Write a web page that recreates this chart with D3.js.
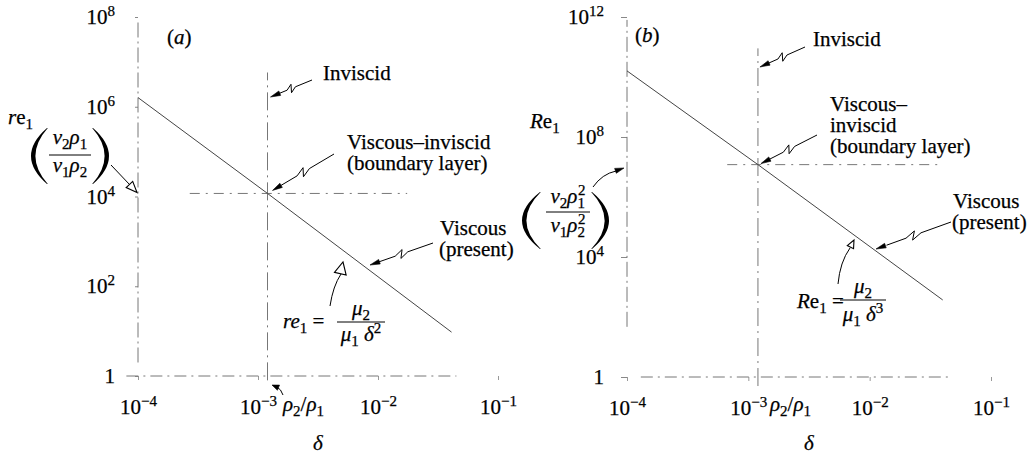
<!DOCTYPE html>
<html>
<head>
<meta charset="utf-8">
<script src="https://cdn.jsdelivr.net/npm/d3@7"></script>
<style>
  body { margin: 0; background: #fff; }
  svg, svg text { font-family: "Liberation Serif", "Times New Roman", serif; }
  svg { display: block; }
</style>
</head>
<body>
<svg id="chart" width="1033" height="455"></svg>
<script>
// values
const deltaTicks = [1e-4, 1e-3, 1e-2, 1e-1];
const reTicksA = [1, 1e2, 1e4, 1e6, 1e8];
const reTicksB = [1, 1e4, 1e8, 1e12];
const rhoRatio = 1.2e-3;                 // rho2/rho1, the inviscid line

// re1 = mu2 / (mu1 delta^2)   (panel a)
const viscousA = [[1e-4, 1.6e6], [1.2e-3, 1.17e4], [0.041, 9.5]];
// Re1 = mu2 / (mu1 delta^3)   (panel b)
const viscousB = [[1e-4, 1.6e10], [1.2e-3, 1.2e7], [0.04, 370]];

// viscous-inviscid (boundary layer) level and its extent in delta
const boundaryA = [[2.7e-4, 1.17e4], [0.0175, 1.17e4]];
const boundaryB = [[6.7e-4, 1.2e7], [0.04, 1.2e7]];

// broken axis lines as they appear in the scan
const leftAxisA = [[1e-4, 2], [1e-4, 8e7]];
const leftAxisB = [[1e-4, 47], [1e-4, 8e11]];
const inviscidA = [[rhoRatio, 0.8], [rhoRatio, 5.8e6]];
const inviscidB = [[rhoRatio, 0.5], [rhoRatio, 9e10]];
const bottomAxisA = [[8e-5, 1], [0.045, 1]];
const bottomAxisB = [[1.3e-4, 1], [0.045, 1]];

const FONT = 'Liberation Serif, serif';
const FS = 21;
const INK = '#000';

const svg = d3.select('#chart').attr('font-family', FONT);

function supLabel(d) {
  const t = d3.select(this);
  const e = Math.round(Math.log10(d));
  t.text(null).attr('fill', INK).attr('font-family', FONT)
    .attr('stroke', INK).attr('stroke-width', 0.25);
  if (e === 0) { t.text('1'); return; }
  t.append('tspan').text('10');
  t.append('tspan').attr('dy', -8).attr('font-size', 15).text(String(e).replace('-', '\u2212'));
}

function drawPanel(cfg) {
  const g = svg.append('g');
  const x = d3.scaleLog().domain([1e-4, 1e-1]).range(cfg.xr);
  const y = d3.scaleLog().domain(cfg.yd).range(cfg.yr);
  const line = d3.line().x(d => x(d[0])).y(d => y(d[1]));

  // axes: tiny ticks + labels
  g.append('g')
    .attr('transform', `translate(${cfg.xr[0]},0)`)
    .call(d3.axisLeft(y).tickValues(cfg.yTicks).tickSizeInner(cfg.yTick).tickSizeOuter(0).tickPadding(23 - cfg.yTick))
    .call(a => a.select('.domain').remove())
    .call(a => a.attr('font-family', FONT).attr('font-size', FS))
    .call(a => a.selectAll('line').attr('stroke', '#888'))
    .call(a => a.selectAll('text').each(supLabel));

  g.append('g')
    .attr('transform', `translate(0,${y(1)})`)
    .call(d3.axisBottom(x).tickValues(deltaTicks).tickSizeInner(4).tickSizeOuter(0).tickPadding(19))
    .call(a => a.select('.domain').remove())
    .call(a => a.attr('font-family', FONT).attr('font-size', FS))
    .call(a => a.selectAll('line').attr('stroke', '#999'))
    .call(a => a.selectAll('text').each(supLabel));

  // dash-dot construction lines
  const dashed = [
    [cfg.leftAxis, '15,4,2,4'],
    [cfg.bottomAxis, '12,5,2,5'],
    [cfg.inviscid, '18,5,2,5'],
    [cfg.boundary, '10,6,2,6']
  ];
  g.selectAll('path.guide')
    .data(dashed)
    .join('path')
    .attr('class', 'guide')
    .attr('d', d => line(d[0]))
    .attr('fill', 'none')
    .attr('stroke', '#777')
    .attr('stroke-width', 1)
    .attr('stroke-dasharray', d => d[1]);

  // viscous line
  g.append('path')
    .attr('d', line(cfg.viscous))
    .attr('fill', 'none')
    .attr('stroke', '#444')
    .attr('stroke-width', 1);

  // delta axis title
  g.append('text')
    .attr('x', (cfg.xr[0] + cfg.xr[1]) / 2)
    .attr('y', 450)
    .attr('text-anchor', 'middle')
    .attr('font-family', FONT)
    .attr('font-size', FS)
    .attr('font-style', 'italic')
    .attr('fill', INK)
    .attr('stroke', INK).attr('stroke-width', 0.25)
    .text('\u03b4');

  return { g, x, y };
}

// rich text with italic / sub / sup pieces: [text, kind, dx]
function rich(g, x, y, segs, opts = {}) {
  const t = g.append('text')
    .attr('x', x).attr('y', y)
    .attr('font-family', FONT)
    .attr('font-size', opts.size || FS)
    .attr('text-anchor', opts.anchor || 'start')
    .attr('fill', INK)
    .attr('stroke', INK).attr('stroke-width', 0.25);
  let shift = 0;
  segs.forEach(s => {
    const [str, kind = '', dx = 0] = typeof s === 'string' ? [s] : s;
    const sp = t.append('tspan').text(str);
    let target = 0;
    if (kind.includes('sub')) target = 5;
    if (kind.includes('sup')) target = -8;
    sp.attr('dy', target - shift);
    shift = target;
    if (dx) sp.attr('dx', dx);
    if (target !== 0) sp.attr('font-size', 15);
    if (kind.includes('i')) sp.attr('font-style', 'italic');
  });
  return t;
}

function paren(g, x0, x1, yTop, yBot, left) {
  const cy = (yTop + yBot) / 2;
  const tip = left ? x1 : x0;
  const bulge = left ? x0 : x1;
  const inner = left ? bulge + 4 : bulge - 4;
  const e = left ? 0.8 : -0.8;
  g.append('path')
    .attr('d', `M${tip},${yTop} Q${2 * bulge - tip},${cy} ${tip},${yBot} L${tip + e},${yBot} Q${2 * inner - tip},${cy} ${tip + e},${yTop} Z`)
    .attr('fill', INK);
}

function head(g, tx, ty, fx, fy, len, half, hollow) {
  const a = Math.atan2(ty - fy, tx - fx);
  const bx = tx - Math.cos(a) * len, by = ty - Math.sin(a) * len;
  const px = -Math.sin(a) * half, py = Math.cos(a) * half;
  g.append('path')
    .attr('d', `M${tx},${ty} L${bx + px},${by + py} L${bx - px},${by - py} Z`)
    .attr('fill', hollow ? '#fff' : INK)
    .attr('stroke', INK)
    .attr('stroke-width', hollow ? 1.1 : 0.6);
}

// lightning-style pointer used for the regime labels
function zigArrow(g, x1, y1, x2, y2) {
  const dx = x2 - x1, dy = y2 - y1, L = Math.hypot(dx, dy);
  const px = -dy / L, py = dx / L;
  const at = (t, o) => [x1 + dx * t + px * o, y1 + dy * t + py * o];
  const pts = [at(0, 0), at(0.4, 0), at(0.53, -4), at(0.47, 4), at(0.6, 0), at(0.86, 0)];
  g.append('path')
    .attr('d', d3.line()(pts))
    .attr('fill', 'none')
    .attr('stroke', INK)
    .attr('stroke-width', 1);
  head(g, x2, y2, x1, y1, 10, 2.4, false);
}

function fraction(g, cx, barY, barW, num, den, numY, denY) {
  rich(g, cx, numY, num, { anchor: 'middle' });
  g.append('line')
    .attr('x1', cx - barW / 2).attr('x2', cx + barW / 2)
    .attr('y1', barY).attr('y2', barY)
    .attr('stroke', INK).attr('stroke-width', 1);
  rich(g, cx, denY, den, { anchor: 'middle' });
}

// ---------------- panel (a) ----------------
const A = drawPanel({
  xr: [138, 498], yd: [1, 1e8], yr: [376, 17], yTicks: reTicksA, yTick: 3,
  viscous: viscousA, boundary: boundaryA, leftAxis: leftAxisA,
  inviscid: inviscidA, bottomAxis: bottomAxisA
});

rich(A.g, 167, 44, ['(', ['a', 'i'], ')']);
rich(A.g, 8, 124, [['r', 'i'], 'e', ['1', 'sub']]);
paren(A.g, 31, 47, 128, 184, true);
paren(A.g, 93, 109, 128, 184, false);
fraction(A.g, 70, 155, 42,
  [['\u03bd', 'i'], ['2', 'sub'], ['\u03c1', 'i'], ['1', 'sub']],
  [['\u03bd', 'i'], ['1', 'sub'], ['\u03c1', 'i'], ['2', 'sub']], 144, 172);
A.g.append('line').attr('x1', 111).attr('y1', 165).attr('x2', 130).attr('y2', 185)
  .attr('stroke', INK).attr('stroke-width', 1);
head(A.g, A.x(1e-4) - 1, A.y(boundaryA[0][1]) - 1, 111, 165, 11, 4.5, true);

rich(A.g, 323, 80, ['Inviscid']);
zigArrow(A.g, 312, 80, A.x(rhoRatio) + 3, 97);
rich(A.g, 347, 149, ['Viscous\u2013inviscid']);
rich(A.g, 347, 170, ['(boundary layer)']);
zigArrow(A.g, 334, 154, A.x(rhoRatio) + 5, A.y(viscousA[1][1]) - 3);
rich(A.g, 440, 235, ['Viscous']);
rich(A.g, 439, 256, ['(present)']);
zigArrow(A.g, 433, 243, 370, 265);

// formula and its pointer
rich(A.g, 283, 328, [['re', 'i'], ['1', 'sub'], ' =']);
fraction(A.g, 361, 322, 48,
  [['\u03bc', 'i'], ['2', 'sub']],
  [['\u03bc', 'i'], ['1', 'sub'], ' ', ['\u03b4', 'i'], ['2', 'sup']], 315, 341);
A.g.append('path').attr('d', 'M330,306 Q333,286 341,274')
  .attr('fill', 'none').attr('stroke', INK).attr('stroke-width', 1);
head(A.g, 343, 262, 340, 275, 12, 6, true);

rich(A.g, 283, 411, [['\u03c1', 'i'], ['2', 'sub'], '/', ['\u03c1', 'i'], ['1', 'sub']]);
A.g.append('path').attr('d', 'M283,395 Q281,389 277,387')
  .attr('fill', 'none').attr('stroke', INK).attr('stroke-width', 1);
head(A.g, 272, 385, 278, 387.5, 7, 2.8, false);

// ---------------- panel (b) ----------------
const B = drawPanel({
  xr: [627, 991], yd: [1, 1e12], yr: [377, 17], yTicks: reTicksB, yTick: 6,
  viscous: viscousB, boundary: boundaryB, leftAxis: leftAxisB,
  inviscid: inviscidB, bottomAxis: bottomAxisB
});

rich(B.g, 635, 42, ['(', ['b', 'i'], ')']);
rich(B.g, 530, 128, [['R', 'i'], 'e', ['1', 'sub']]);
paren(B.g, 522, 540, 192, 249, true);
paren(B.g, 592, 609, 192, 249, false);
fraction(B.g, 568, 212, 44,
  [['\u03bd', 'i'], ['2', 'sub'], ['\u03c1', 'i'], ['1', 'sub'], ['2', 'sup', -7]],
  [['\u03bd', 'i'], ['1', 'sub'], ['\u03c1', 'i'], ['2', 'sub'], ['2', 'sup', -7]], 203, 232);
B.g.append('path').attr('d', 'M593,187 Q602,174 616,171')
  .attr('fill', 'none').attr('stroke', INK).attr('stroke-width', 1);
head(B.g, 624, 168, 615, 171, 9, 2.6, false);

rich(B.g, 813, 46, ['Inviscid']);
zigArrow(B.g, 805, 47, B.x(rhoRatio) + 2, 67);
rich(B.g, 830, 111, ['Viscous\u2013']);
rich(B.g, 830, 132, ['inviscid']);
rich(B.g, 830, 153, ['(boundary layer)']);
zigArrow(B.g, 817, 135, B.x(rhoRatio) + 3, B.y(viscousB[1][1]) - 1);
rich(B.g, 953, 208, ['Viscous']);
rich(B.g, 952, 229, ['(present)']);
zigArrow(B.g, 951, 222, 876, 249);

rich(B.g, 797, 308, [['R', 'i'], 'e', ['1', 'sub'], ' =']);
fraction(B.g, 863, 300, 46,
  [['\u03bc', 'i'], ['2', 'sub']],
  [['\u03bc', 'i'], ['1', 'sub'], ' ', ['\u03b4', 'i'], ['3', 'sup']], 293, 321);
B.g.append('path').attr('d', 'M838,284 Q840,262 850,248')
  .attr('fill', 'none').attr('stroke', INK).attr('stroke-width', 1);
head(B.g, 854, 240, 850, 248, 8, 3.5, true);

rich(B.g, 770, 411, [['\u03c1', 'i'], ['2', 'sub'], '/', ['\u03c1', 'i'], ['1', 'sub']]);
</script>
</body>
</html>
